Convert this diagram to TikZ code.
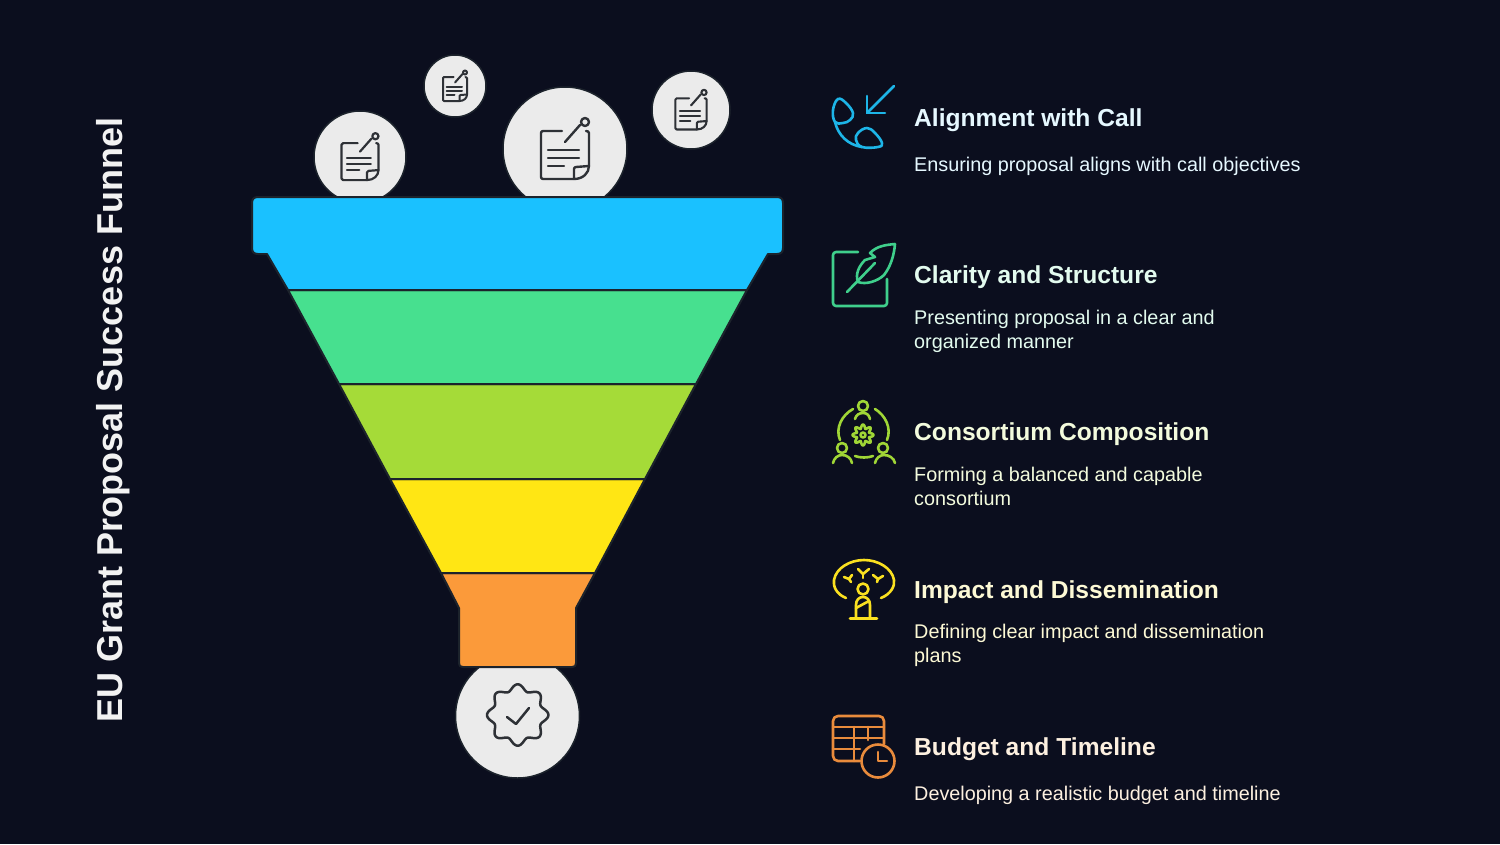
\documentclass[tikz,border=0pt]{standalone}
\usepackage{fontspec}
\usepackage{xcolor}
\setmainfont{Liberation Sans}

\definecolor{bgnavy}{HTML}{0B0E1E}
\definecolor{edgedark}{HTML}{1C232C}
\definecolor{discgrey}{HTML}{EBEBEB}
\definecolor{inkgrey}{HTML}{2E3136}
\definecolor{bandblue}{HTML}{1AC1FF}
\definecolor{bandgreen}{HTML}{47E08F}
\definecolor{bandlime}{HTML}{A5DB38}
\definecolor{bandyellow}{HTML}{FFE614}
\definecolor{bandorange}{HTML}{FB9A3A}
\definecolor{iconblue}{HTML}{1DB5E8}
\definecolor{icongreen}{HTML}{3FCF8C}
\definecolor{iconlime}{HTML}{A0D636}
\definecolor{iconyellow}{HTML}{FAE020}
\definecolor{iconorange}{HTML}{E98B3C}
\definecolor{tintblue}{HTML}{E6F8FF}
\definecolor{tintgreen}{HTML}{E3FBEF}
\definecolor{tintlime}{HTML}{F3FBDD}
\definecolor{tintyellow}{HTML}{FDF9D5}
\definecolor{tintorange}{HTML}{FDF0E0}

\tikzset{
  disc/.style={circle,fill=discgrey,draw=edgedark,line width=1.5pt,minimum size=#1,inner sep=0pt},
  band/.style={draw=edgedark,line width=2pt,line join=round},
  inkline/.style={draw=inkgrey,line width=#1,line cap=round,line join=round},
  iconline/.style={draw=#1,line width=2.6pt,line cap=round,line join=round},
  headtext/.style={anchor=base west,inner sep=0pt,text=#1,font=\fontsize{24.6}{30}\selectfont\bfseries},
  bodytext/.style={anchor=base west,inner sep=0pt,text=#1,align=left,font=\fontsize{19.8}{23.5}\selectfont},
}

\newcommand{\noteicon}[4]{%
  \begin{scope}[shift={(#1,#2)},scale=#3]
    \draw[inkline=#4] (-3,-18) -- (-22,-18) to[out=180,in=90] (-24,-16) -- (-24,28) to[out=-90,in=180] (-22,30) -- (9,30) .. controls (18,30) and (24,24) .. (24,17) -- (24,-16) to[out=90,in=0] (21,-18);
    \draw[inkline=#4] (9,30) -- (9,20) to[out=90,in=180] (11,18) -- (24,17);
    \draw[inkline=#4] (0,-7) -- (15,-24);
    \draw[inkline=#4] (20,-27) circle (4);
    \draw[inkline=#4] (-17,1) -- (14,1);
    \draw[inkline=#4] (-17,9) -- (14,9);
    \draw[inkline=#4] (-17,17) -- (-1,17);
  \end{scope}}

\begin{document}
\begin{tikzpicture}[x=1pt,y=-1pt]
\useasboundingbox (0,0) rectangle (1500,844);
\fill[bgnavy] (0,0) rectangle (1500,844);

% side title
\node[rotate=90,anchor=base,inner sep=0pt,text=white!95!black,font=\fontsize{36}{40}\selectfont\bfseries] (title) at (122,420) {EU Grant Proposal Success Funnel};

% discs above and below the funnel
\node[disc=92pt] (discone) at (360,157) {};
\node[disc=62pt] (disctwo) at (455,86) {};
\node[disc=124pt] (discthree) at (565,149) {};
\node[disc=78pt] (discfour) at (691,110) {};
\node[disc=124pt] (discfive) at (517.5,716) {};

\noteicon{360}{157}{0.77}{2.2pt}
\noteicon{455}{86}{0.5}{2pt}
\noteicon{565}{149}{1}{2.4pt}
\noteicon{691}{110}{0.65}{2.1pt}

% badge with check
\draw[inkline=2.5pt] plot[domain=0:360,samples=145,smooth] ([shift={(517.7,715)}]\x:{27.7+3*cos(8*\x)}) -- cycle;
\draw[inkline=2.5pt] (507,717) -- (516,724) -- (529,708);

% funnel
\draw[band,fill=bandorange] (441,573) -- (595,573) -- (576,608) -- (576,663) .. controls (576,666) and (575,667) .. (572,667) -- (463,667) .. controls (460,667) and (459,666) .. (459,663) -- (459,608) -- cycle;
\draw[band,fill=bandyellow] (390,479) -- (645,479) -- (595,573) -- (441,573) -- cycle;
\draw[band,fill=bandlime] (339,384) -- (696,384) -- (645,479) -- (390,479) -- cycle;
\draw[band,fill=bandgreen] (288,290) -- (747,290) -- (696,384) -- (339,384) -- cycle;
\draw[band,fill=bandblue] (258,197) -- (777,197) .. controls (781,197) and (783,199) .. (783,203) -- (783,248) .. controls (783,252) and (781,254) .. (777,254) -- (768,254) -- (747,290) -- (288,290) -- (267,254) -- (258,254) .. controls (254,254) and (252,252) .. (252,248) -- (252,203) .. controls (252,199) and (254,197) .. (258,197) -- cycle;

% blue icon
\draw[iconline=iconblue] (894,86) -- (867,113);
\draw[iconline=iconblue] (867,96) -- (867,113) -- (885,113);
\draw[iconline=iconblue] plot[smooth cycle,tension=.7] coordinates {(838,99) (846,103) (853,113) (850,120) (843,123) (835,122) (833,110)};
\draw[iconline=iconblue] plot[smooth cycle,tension=.7] coordinates {(867,128) (875,133) (882,143) (878,147) (862,147) (856,140) (858,133)};
\draw[iconline=iconblue] (835,122) .. controls (838,135) and (848,145) .. (862,147);

% green icon
\draw[iconline=icongreen,rounded corners=3pt] (858,252) -- (833,252) -- (833,306) -- (887,306) -- (887,279);
\draw[iconline=icongreen] (895,244) .. controls (885,245) and (877,246) .. (870,253) -- (875,257) -- (865,260) .. controls (859,266) and (855,274) .. (858,282) .. controls (866,285) and (878,281) .. (884,275) .. controls (891,266) and (894,255) .. (895,244);
\draw[iconline=icongreen] (847,292) -- (875,263);

% lime icon
\draw[iconline=iconlime] (863,406) circle (5);
\draw[iconline=iconlime] (855,419) .. controls (856,415) and (859,413) .. (863,413) .. controls (867,413) and (869,415) .. (870,419);
\draw[iconline=iconlime] (842,448) circle (5);
\draw[iconline=iconlime] (833,463) .. controls (834,458) and (838,455) .. (842,455) .. controls (847,455) and (851,458) .. (852,463);
\draw[iconline=iconlime] (883,448) circle (5);
\draw[iconline=iconlime] (875,463) .. controls (876,458) and (880,455) .. (884,455) .. controls (889,455) and (894,458) .. (895,463);
\draw[iconline=iconlime] (853,409) .. controls (842,415) and (835,428) .. (840,440);
\draw[iconline=iconlime] (875,409) .. controls (885,415) and (892,428) .. (887,440);
\draw[iconline=iconlime] (855,456) .. controls (860,458) and (868,458) .. (873,456);
\draw[iconline=iconlime] plot[domain=0:360,samples=97,smooth] ([shift={(863,435)}]\x:{8.5+2*cos(8*\x)}) -- cycle;
\draw[iconline=iconlime] (863,435) circle (2.5);

% yellow icon
\draw[iconline=iconyellow] (846,598) .. controls (836,594) and (833,586) .. (834,580) .. controls (836,568) and (850,560) .. (864,560) .. controls (878,560) and (892,568) .. (894,580) .. controls (895,586) and (891,594) .. (881,598);
\draw[iconline=iconyellow] (858,569) -- (863,574) -- (869,569);
\draw[iconline=iconyellow] (863,574) -- (863,578);
\draw[iconline=iconyellow] (844,577) -- (849,579) -- (852,575);
\draw[iconline=iconyellow] (849,579) -- (851,582);
\draw[iconline=iconyellow] (873,575) -- (878,579) -- (883,576);
\draw[iconline=iconyellow] (878,579) -- (877,582);
\draw[iconline=iconyellow] (863,589) circle (5.5);
\draw[iconline=iconyellow] (856,618) -- (856,605) .. controls (856,600) and (859,597) .. (863,597) .. controls (867,597) and (870,600) .. (870,605) -- (870,618);
\draw[iconline=iconyellow] (850,618.5) -- (877,618.5);
\draw[iconline=iconyellow] (856,608) -- (869,601);

% orange icon
\draw[iconline=iconorange,rounded corners=5pt] (860,761) -- (833,761) -- (833,716) -- (884,716) -- (884,744);
\draw[iconline=iconorange] (833,727) -- (884,727);
\draw[iconline=iconorange] (833,738) -- (884,738);
\draw[iconline=iconorange] (833,749) -- (860,749);
\draw[iconline=iconorange] (854,727) -- (854,761);
\draw[iconline=iconorange] (868,727) -- (868,740);
\draw[iconline=iconorange] (878,761) circle (16.5);
\draw[iconline=iconorange] (878,752) -- (878,761) -- (887,761);

% texts
\node[headtext=tintblue] (headone) at (914,126) {Alignment with Call};
\node[bodytext=tintblue] (bodyone) at (914,171) {Ensuring proposal aligns with call objectives};
\node[headtext=tintgreen] (headtwo) at (914,283) {Clarity and Structure};
\node[bodytext=tintgreen] (bodytwo) at (914,348) {Presenting proposal in a clear and\\organized manner};
\node[headtext=tintlime] (headthree) at (914,440) {Consortium Composition};
\node[bodytext=tintlime] (bodythree) at (914,505) {Forming a balanced and capable\\consortium};
\node[headtext=tintyellow] (headfour) at (914,598) {Impact and Dissemination};
\node[bodytext=tintyellow] (bodyfour) at (914,662) {Defining clear impact and dissemination\\plans};
\node[headtext=tintorange] (headfive) at (914,755) {Budget and Timeline};
\node[bodytext=tintorange] (bodyfive) at (914,800) {Developing a realistic budget and timeline};
\end{tikzpicture}
\end{document}
